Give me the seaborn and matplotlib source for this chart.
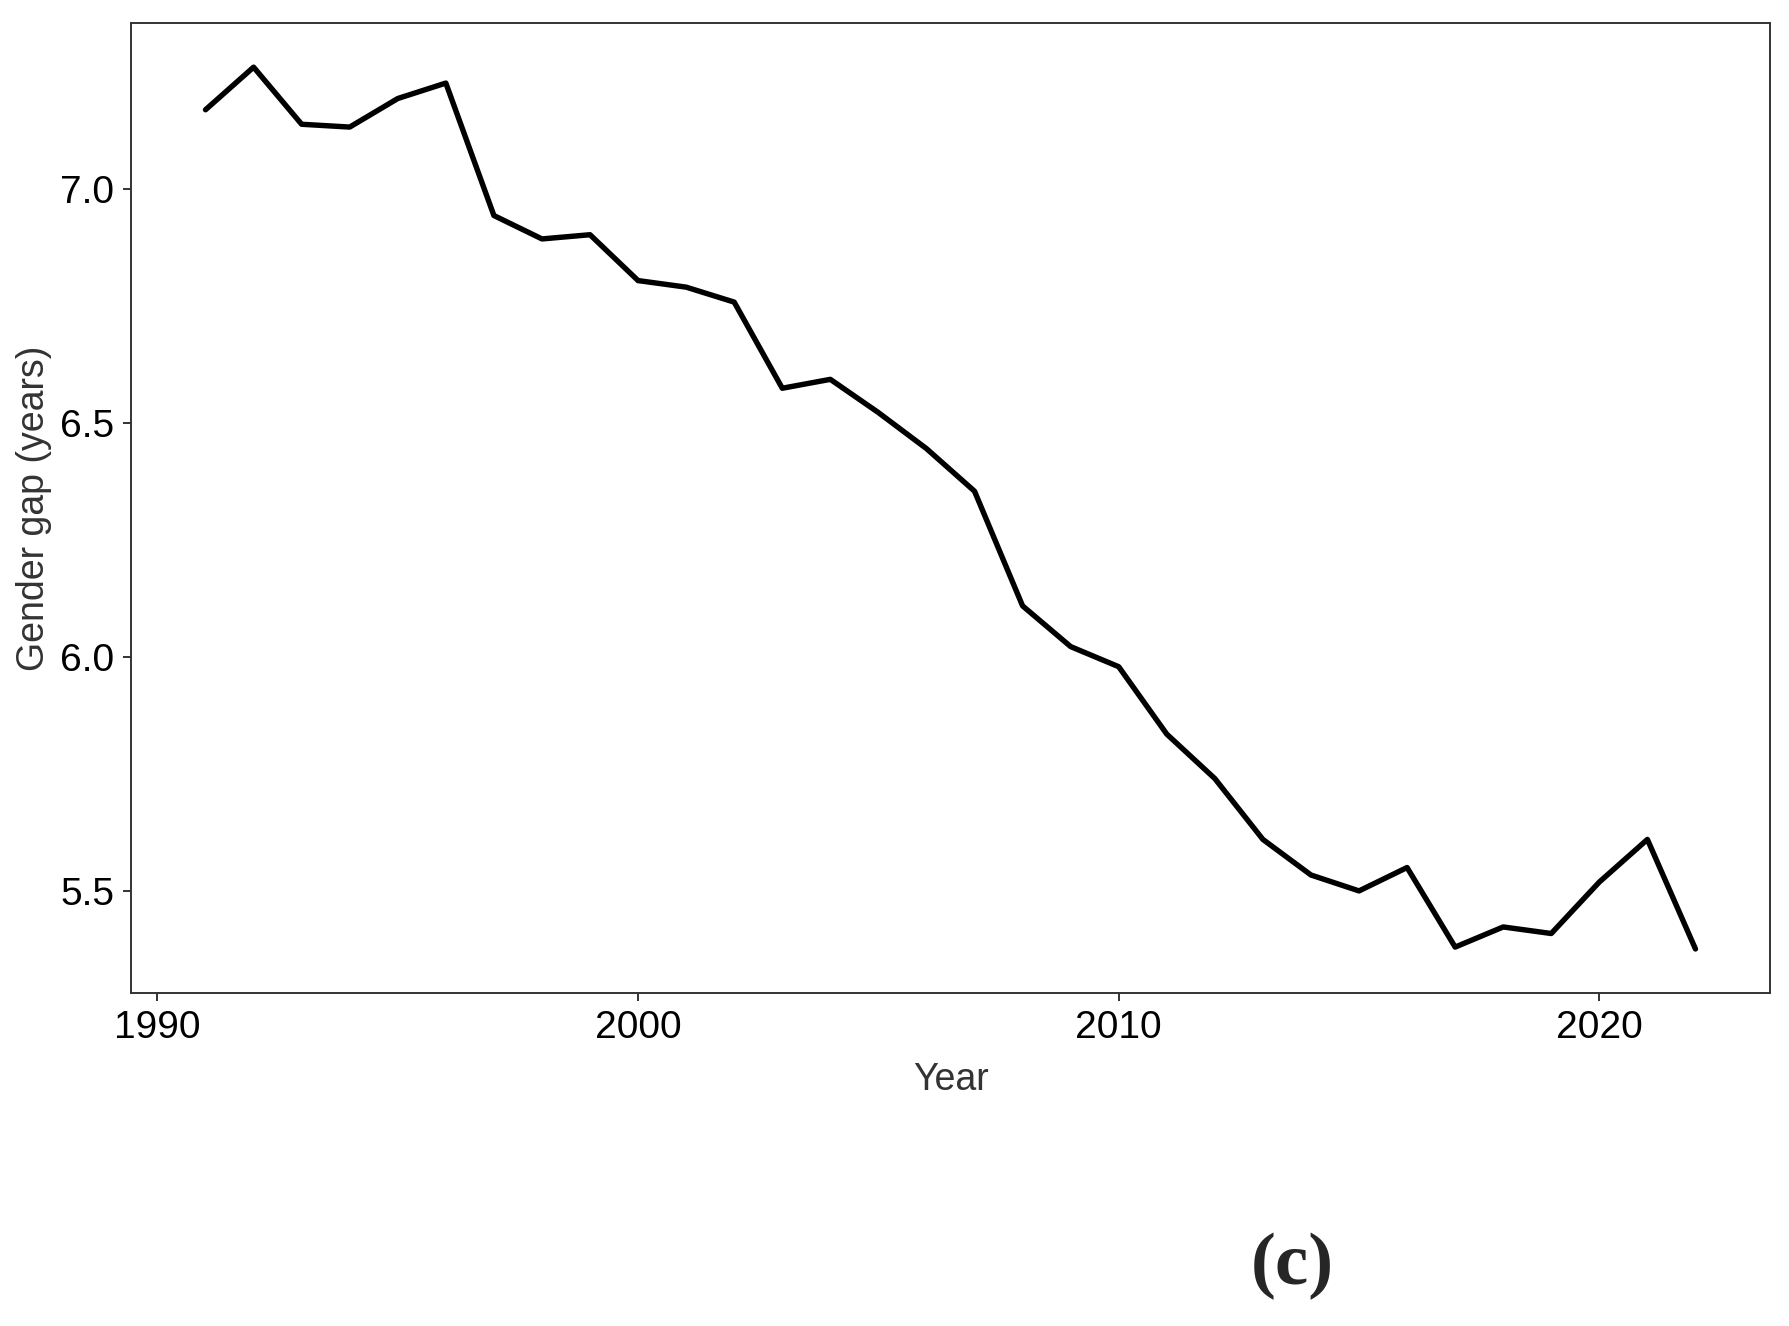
import numpy as np
import pandas as pd
import seaborn as sns
import matplotlib.pyplot as plt

# values
years = list(range(1991, 2023))
gender_gap = [7.170, 7.261, 7.139, 7.133, 7.194, 7.227, 6.944, 6.894,
              6.903, 6.805, 6.791, 6.759, 6.575, 6.594, 6.523, 6.446,
              6.355, 6.110, 6.023, 5.980, 5.836, 5.741, 5.611, 5.535,
              5.501, 5.551, 5.381, 5.424, 5.410, 5.520, 5.611, 5.377]
x_ticks = [1990, 2000, 2010, 2020]
y_ticks = [5.5, 6.0, 6.5, 7.0]

df = pd.DataFrame({'Year': years, 'gap': gender_gap})

sns.set_style('ticks')
plt.rcParams['font.family'] = ['Liberation Sans', 'DejaVu Sans']

fig = plt.figure(figsize=(17.9, 13.26), dpi=100)
ax = fig.add_axes([0.0732, 0.2511, 0.9156, 0.7315])

sns.lineplot(data=df, x='Year', y='gap', color='black', linewidth=3.9, ax=ax)

# ggplot-style 5% expansion
span_x = max(years) - min(years)
span_y = max(gender_gap) - min(gender_gap)
ax.set_xlim(min(years) - 0.05 * span_x, max(years) + 0.05 * span_x)
ax.set_ylim(min(gender_gap) - 0.05 * span_y, max(gender_gap) + 0.05 * span_y)

ax.set_xticks(x_ticks)
ax.set_yticks(y_ticks)
ax.set_yticklabels([f'{v:.1f}' for v in y_ticks])
ax.tick_params(axis='both', labelsize=28, colors='#333333', labelcolor='black',
               length=6, width=1.4, direction='out', pad=6)

for side in ['top', 'right', 'bottom', 'left']:
    ax.spines[side].set_visible(True)
    ax.spines[side].set_color('#333333')
    ax.spines[side].set_linewidth(1.4)

ax.set_xlabel('Year', fontsize=27, color='#333333', labelpad=12)
ax.set_ylabel('Gender gap (years)', fontsize=27, color='#333333', labelpad=6)

fig.text(0.722, 0.045, '(c)', fontsize=54, fontweight='bold',
         family='Liberation Serif', ha='center', va='center')

fig.savefig('out.png', dpi=100, facecolor='white')
